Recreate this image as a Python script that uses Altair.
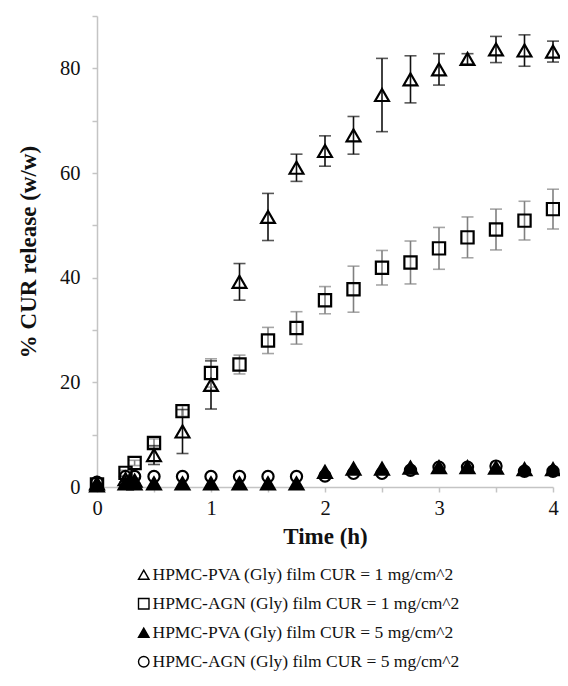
import altair as alt
import pandas as pd

# ---- data ----
time_h = [0, 0.25, 0.33, 0.5, 0.75, 1, 1.25, 1.5, 1.75, 2, 2.25, 2.5, 2.75, 3, 3.25, 3.5, 3.75, 4]

pva_1 = [0.3, 1.5, 1.2, 6.1, 10.6, 19.5, 39.2, 51.6, 61.0, 64.2, 67.2, 74.9, 77.9, 79.8, 81.8, 83.6, 83.4, 83.2]
pva_1_sd = [0.3, 0.5, 0.5, 1.8, 4.2, 4.6, 3.5, 4.5, 2.6, 2.9, 3.6, 7.0, 4.5, 3.0, 1.0, 2.5, 3.0, 2.0]

agn_1 = [0.5, 2.7, 4.6, 8.4, 14.5, 21.8, 23.4, 28.0, 30.4, 35.7, 37.8, 41.9, 42.9, 45.6, 47.7, 49.2, 50.9, 53.1]
agn_1_sd = [0.3, 0.5, 0.5, 0.8, 1.0, 2.7, 1.8, 2.5, 3.1, 2.6, 4.4, 3.3, 4.1, 4.0, 3.9, 3.9, 3.7, 3.8]

pva_5 = [0.7, 0.7, 0.7, 0.7, 0.7, 0.7, 0.7, 0.7, 0.7, 2.9, 3.5, 3.5, 3.7, 3.8, 3.8, 3.7, 3.4, 3.4]
agn_5 = [0.9, 2.0, 2.0, 2.0, 2.0, 2.0, 2.0, 2.0, 2.0, 2.1, 2.6, 2.6, 3.2, 3.8, 3.8, 4.0, 3.0, 3.0]

series_labels = [
    "HPMC-PVA (Gly) film CUR = 1 mg/cm^2",
    "HPMC-AGN (Gly) film CUR = 1 mg/cm^2",
    "HPMC-PVA (Gly) film CUR = 5 mg/cm^2",
    "HPMC-AGN (Gly) film CUR = 5 mg/cm^2",
]
series_shapes = ["triangle-up", "square", "triangle-up", "circle"]
series_fills = ["transparent", "transparent", "black", "transparent"]
series_strokes = ["black", "black", "black", "black"]
series_sizes = [190, 150, 190, 125]
errbar_colors = ["#111111", "#808080"]

x_ticks = [0, 0.5, 1, 1.5, 2, 2.5, 3, 3.5, 4]
y_ticks = [0, 10, 20, 30, 40, 50, 60, 70, 80, 90]

# ---- tables ----
# drawing order: open triangles, squares, circles, then filled triangles on top
draw_order = [(0, pva_1), (1, agn_1), (3, agn_5), (2, pva_5)]
rows = []
for k, vals in draw_order:
    for t, v in zip(time_h, vals):
        rows.append({"time": t, "value": v, "series": series_labels[k], "sz": series_sizes[k]})
points_df = pd.DataFrame(rows)

err_rows = []
for k, vals, sds in [(0, pva_1, pva_1_sd), (1, agn_1, agn_1_sd)]:
    for t, v, s in zip(time_h, vals, sds):
        err_rows.append({"time": t, "lo": v - s, "hi": v + s, "series": series_labels[k]})
err_df = pd.DataFrame(err_rows)
caps_df = pd.concat([
    err_df[["time", "series"]].assign(cap=err_df["lo"]),
    err_df[["time", "series"]].assign(cap=err_df["hi"]),
])

FONT = "Liberation Serif"

x_scale = alt.Scale(domain=[0, 4], nice=False)
y_scale = alt.Scale(domain=[0, 90], nice=False)
err_color = alt.Color("series:N", scale=alt.Scale(domain=series_labels[:2], range=errbar_colors), legend=None)

x_axis = alt.Axis(values=x_ticks,
                  labelExpr="datum.value % 1 == 0 ? format(datum.value, 'd') : ''",
                  labelFlush=False,
                  title="Time (h)", titlePadding=7, labelPadding=6)
y_axis = alt.Axis(values=y_ticks,
                  labelExpr="datum.value % 20 == 0 ? format(datum.value, 'd') : ''",
                  title="% CUR release (w/w)", titlePadding=19, labelPadding=12)

rules = alt.Chart(err_df).mark_rule(strokeWidth=1.6).encode(
    x=alt.X("time:Q", scale=x_scale, axis=x_axis),
    y=alt.Y("lo:Q", scale=y_scale, axis=y_axis),
    y2="hi:Q",
    color=err_color,
)

caps = alt.Chart(caps_df).mark_tick(orient="horizontal", size=12, thickness=1.6).encode(
    x=alt.X("time:Q", scale=x_scale),
    y=alt.Y("cap:Q", scale=y_scale),
    color=err_color,
)

leg = alt.Legend(
    title=None, orient="none", legendX=38, legendY=550, direction="vertical",
    symbolStrokeWidth=1.4,
)

points = alt.Chart(points_df).mark_point(filled=False, strokeWidth=2.2, opacity=1).encode(
    x=alt.X("time:Q", scale=x_scale),
    y=alt.Y("value:Q", scale=y_scale),
    shape=alt.Shape("series:N", scale=alt.Scale(domain=series_labels, range=series_shapes), legend=leg),
    fill=alt.Fill("series:N", scale=alt.Scale(domain=series_labels, range=series_fills), legend=leg),
    stroke=alt.Stroke("series:N", scale=alt.Scale(domain=series_labels, range=series_strokes), legend=leg),
    size=alt.Size("sz:Q", scale=None),
)

chart = alt.layer(rules, caps, points).properties(
    width=456,
    height=471,
    autosize=alt.AutoSizeParams(type="none"),
    padding={"left": 89, "top": 8, "right": 7, "bottom": 190},
).configure_view(stroke=None).configure_axis(
    grid=False,
    domainColor="#c4c4c4",
    tickColor="#c4c4c4",
    domainWidth=1.5,
    tickWidth=1.5,
    tickSize=5,
    labelFont=FONT,
    labelFontSize=20.5,
    labelColor="#111111",
    titleFont=FONT,
    titleFontSize=23,
    titleFontWeight="bold",
    titleColor="#111111",
).configure_legend(
    labelFont=FONT,
    labelFontSize=17.5,
    labelColor="#111111",
    labelLimit=500,
    symbolSize=110,
    rowPadding=10,
    labelOffset=0,
)

chart.save("out.html", embed_options={"renderer": "svg", "actions": False})
